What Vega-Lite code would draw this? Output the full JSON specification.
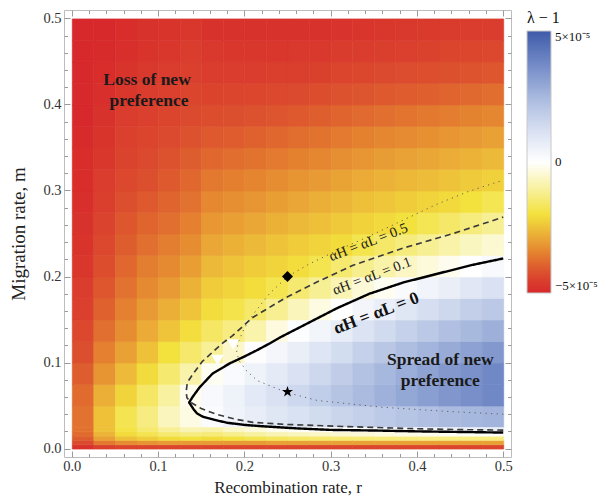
{
"$schema":"https://vega.github.io/schema/vega-lite/v6.json",
"width":447,"height":447,
"autosize":{"type":"none"},
"padding":{"left":64,"top":10,"right":100,"bottom":47},
"background":"white",
"config":{"font":"Liberation Serif","view":{"stroke":"#bdbdbd","strokeWidth":1}},
"datasets":{
"g":[
{"r":0,"m":0.025,"v":-3.7},{"r":0,"m":0.05,"v":-3.8},{"r":0,"m":0.075,"v":-4.0},{"r":0,"m":0.1,"v":-4.2},{"r":0,"m":0.125,"v":-4.35},{"r":0,"m":0.15,"v":-4.5},{"r":0,"m":0.175,"v":-4.6},{"r":0,"m":0.2,"v":-4.7},{"r":0,"m":0.225,"v":-4.75},{"r":0,"m":0.25,"v":-4.8},{"r":0,"m":0.275,"v":-4.85},{"r":0,"m":0.3,"v":-4.9},{"r":0,"m":0.325,"v":-4.9},{"r":0,"m":0.35,"v":-4.95},{"r":0,"m":0.375,"v":-5},{"r":0,"m":0.4,"v":-5},{"r":0,"m":0.425,"v":-5},{"r":0,"m":0.45,"v":-5},{"r":0,"m":0.475,"v":-5},
{"r":0.025,"m":0.025,"v":-2.5},{"r":0.025,"m":0.05,"v":-2.8},{"r":0.025,"m":0.075,"v":-3.2},{"r":0.025,"m":0.1,"v":-3.5},{"r":0.025,"m":0.125,"v":-3.75},{"r":0.025,"m":0.15,"v":-3.95},{"r":0.025,"m":0.175,"v":-4.1},{"r":0.025,"m":0.2,"v":-4.25},{"r":0.025,"m":0.225,"v":-4.35},{"r":0.025,"m":0.25,"v":-4.45},{"r":0.025,"m":0.275,"v":-4.55},{"r":0.025,"m":0.3,"v":-4.6},{"r":0.025,"m":0.325,"v":-4.7},{"r":0.025,"m":0.35,"v":-4.75},{"r":0.025,"m":0.375,"v":-4.8},{"r":0.025,"m":0.4,"v":-4.85},{"r":0.025,"m":0.425,"v":-4.9},{"r":0.025,"m":0.45,"v":-4.95},{"r":0.025,"m":0.475,"v":-5},
{"r":0.05,"m":0.025,"v":-1.8},{"r":0.05,"m":0.05,"v":-2.2},{"r":0.05,"m":0.075,"v":-2.6},{"r":0.05,"m":0.1,"v":-3.0},{"r":0.05,"m":0.125,"v":-3.3},{"r":0.05,"m":0.15,"v":-3.5},{"r":0.05,"m":0.175,"v":-3.7},{"r":0.05,"m":0.2,"v":-3.85},{"r":0.05,"m":0.225,"v":-4.0},{"r":0.05,"m":0.25,"v":-4.1},{"r":0.05,"m":0.275,"v":-4.2},{"r":0.05,"m":0.3,"v":-4.35},{"r":0.05,"m":0.325,"v":-4.45},{"r":0.05,"m":0.35,"v":-4.5},{"r":0.05,"m":0.375,"v":-4.6},{"r":0.05,"m":0.4,"v":-4.7},{"r":0.05,"m":0.425,"v":-4.75},{"r":0.05,"m":0.45,"v":-4.85},{"r":0.05,"m":0.475,"v":-4.9},
{"r":0.075,"m":0.025,"v":-1.3},{"r":0.075,"m":0.05,"v":-1.6},{"r":0.075,"m":0.075,"v":-2.1},{"r":0.075,"m":0.1,"v":-2.5},{"r":0.075,"m":0.125,"v":-2.85},{"r":0.075,"m":0.15,"v":-3.1},{"r":0.075,"m":0.175,"v":-3.35},{"r":0.075,"m":0.2,"v":-3.55},{"r":0.075,"m":0.225,"v":-3.75},{"r":0.075,"m":0.25,"v":-3.9},{"r":0.075,"m":0.275,"v":-4.05},{"r":0.075,"m":0.3,"v":-4.2},{"r":0.075,"m":0.325,"v":-4.3},{"r":0.075,"m":0.35,"v":-4.4},{"r":0.075,"m":0.375,"v":-4.5},{"r":0.075,"m":0.4,"v":-4.6},{"r":0.075,"m":0.425,"v":-4.65},{"r":0.075,"m":0.45,"v":-4.75},{"r":0.075,"m":0.475,"v":-4.8},
{"r":0.1,"m":0.025,"v":-0.7},{"r":0.1,"m":0.05,"v":-1.0},{"r":0.1,"m":0.075,"v":-1.5},{"r":0.1,"m":0.1,"v":-2.0},{"r":0.1,"m":0.125,"v":-2.45},{"r":0.1,"m":0.15,"v":-2.8},{"r":0.1,"m":0.175,"v":-3.1},{"r":0.1,"m":0.2,"v":-3.35},{"r":0.1,"m":0.225,"v":-3.55},{"r":0.1,"m":0.25,"v":-3.75},{"r":0.1,"m":0.275,"v":-3.9},{"r":0.1,"m":0.3,"v":-4.05},{"r":0.1,"m":0.325,"v":-4.15},{"r":0.1,"m":0.35,"v":-4.3},{"r":0.1,"m":0.375,"v":-4.4},{"r":0.1,"m":0.4,"v":-4.5},{"r":0.1,"m":0.425,"v":-4.6},{"r":0.1,"m":0.45,"v":-4.7},{"r":0.1,"m":0.475,"v":-4.75},
{"r":0.125,"m":0.025,"v":-0.3},{"r":0.125,"m":0.05,"v":-0.2},{"r":0.125,"m":0.075,"v":-0.9},{"r":0.125,"m":0.1,"v":-1.55},{"r":0.125,"m":0.125,"v":-2.05},{"r":0.125,"m":0.15,"v":-2.45},{"r":0.125,"m":0.175,"v":-2.75},{"r":0.125,"m":0.2,"v":-3.05},{"r":0.125,"m":0.225,"v":-3.3},{"r":0.125,"m":0.25,"v":-3.5},{"r":0.125,"m":0.275,"v":-3.7},{"r":0.125,"m":0.3,"v":-3.85},{"r":0.125,"m":0.325,"v":-4.0},{"r":0.125,"m":0.35,"v":-4.15},{"r":0.125,"m":0.375,"v":-4.3},{"r":0.125,"m":0.4,"v":-4.4},{"r":0.125,"m":0.425,"v":-4.5},{"r":0.125,"m":0.45,"v":-4.6},{"r":0.125,"m":0.475,"v":-4.7},
{"r":0.15,"m":0.025,"v":0.16},{"r":0.15,"m":0.05,"v":0.22},{"r":0.15,"m":0.075,"v":-0.15},{"r":0.15,"m":0.1,"v":-1.09},{"r":0.15,"m":0.125,"v":-1.61},{"r":0.15,"m":0.15,"v":-2.07},{"r":0.15,"m":0.175,"v":-2.35},{"r":0.15,"m":0.2,"v":-2.63},{"r":0.15,"m":0.225,"v":-2.9},{"r":0.15,"m":0.25,"v":-3.15},{"r":0.15,"m":0.275,"v":-3.38},{"r":0.15,"m":0.3,"v":-3.62},{"r":0.15,"m":0.325,"v":-3.85},{"r":0.15,"m":0.35,"v":-4.06},{"r":0.15,"m":0.375,"v":-4.25},{"r":0.15,"m":0.4,"v":-4.44},{"r":0.15,"m":0.425,"v":-4.57},{"r":0.15,"m":0.45,"v":-4.68},{"r":0.15,"m":0.475,"v":-4.8},
{"r":0.175,"m":0.025,"v":0.45},{"r":0.175,"m":0.05,"v":0.51},{"r":0.175,"m":0.075,"v":0.18},{"r":0.175,"m":0.1,"v":-0.56},{"r":0.175,"m":0.125,"v":-1.3},{"r":0.175,"m":0.15,"v":-1.86},{"r":0.175,"m":0.175,"v":-2.21},{"r":0.175,"m":0.2,"v":-2.48},{"r":0.175,"m":0.225,"v":-2.76},{"r":0.175,"m":0.25,"v":-3.03},{"r":0.175,"m":0.275,"v":-3.28},{"r":0.175,"m":0.3,"v":-3.52},{"r":0.175,"m":0.325,"v":-3.77},{"r":0.175,"m":0.35,"v":-4.01},{"r":0.175,"m":0.375,"v":-4.21},{"r":0.175,"m":0.4,"v":-4.41},{"r":0.175,"m":0.425,"v":-4.57},{"r":0.175,"m":0.45,"v":-4.69},{"r":0.175,"m":0.475,"v":-4.8},
{"r":0.2,"m":0.025,"v":0.7},{"r":0.2,"m":0.05,"v":0.84},{"r":0.2,"m":0.075,"v":0.52},{"r":0.2,"m":0.1,"v":0.07},{"r":0.2,"m":0.125,"v":-0.87},{"r":0.2,"m":0.15,"v":-1.54},{"r":0.2,"m":0.175,"v":-2.07},{"r":0.2,"m":0.2,"v":-2.35},{"r":0.2,"m":0.225,"v":-2.63},{"r":0.2,"m":0.25,"v":-2.91},{"r":0.2,"m":0.275,"v":-3.17},{"r":0.2,"m":0.3,"v":-3.42},{"r":0.2,"m":0.325,"v":-3.68},{"r":0.2,"m":0.35,"v":-3.93},{"r":0.2,"m":0.375,"v":-4.16},{"r":0.2,"m":0.4,"v":-4.38},{"r":0.2,"m":0.425,"v":-4.56},{"r":0.2,"m":0.45,"v":-4.69},{"r":0.2,"m":0.475,"v":-4.8},
{"r":0.225,"m":0.025,"v":0.95},{"r":0.225,"m":0.05,"v":1.16},{"r":0.225,"m":0.075,"v":0.82},{"r":0.225,"m":0.1,"v":0.34},{"r":0.225,"m":0.125,"v":-0.33},{"r":0.225,"m":0.15,"v":-1.15},{"r":0.225,"m":0.175,"v":-1.82},{"r":0.225,"m":0.2,"v":-2.21},{"r":0.225,"m":0.225,"v":-2.48},{"r":0.225,"m":0.25,"v":-2.76},{"r":0.225,"m":0.275,"v":-3.04},{"r":0.225,"m":0.3,"v":-3.31},{"r":0.225,"m":0.325,"v":-3.58},{"r":0.225,"m":0.35,"v":-3.85},{"r":0.225,"m":0.375,"v":-4.11},{"r":0.225,"m":0.4,"v":-4.34},{"r":0.225,"m":0.425,"v":-4.55},{"r":0.225,"m":0.45,"v":-4.69},{"r":0.225,"m":0.475,"v":-4.8},
{"r":0.25,"m":0.025,"v":1.15},{"r":0.25,"m":0.05,"v":1.48},{"r":0.25,"m":0.075,"v":1.16},{"r":0.25,"m":0.1,"v":0.68},{"r":0.25,"m":0.125,"v":0.09},{"r":0.25,"m":0.15,"v":-0.72},{"r":0.25,"m":0.175,"v":-1.47},{"r":0.25,"m":0.2,"v":-2.07},{"r":0.25,"m":0.225,"v":-2.35},{"r":0.25,"m":0.25,"v":-2.63},{"r":0.25,"m":0.275,"v":-2.92},{"r":0.25,"m":0.3,"v":-3.2},{"r":0.25,"m":0.325,"v":-3.48},{"r":0.25,"m":0.35,"v":-3.77},{"r":0.25,"m":0.375,"v":-4.05},{"r":0.25,"m":0.4,"v":-4.3},{"r":0.25,"m":0.425,"v":-4.53},{"r":0.25,"m":0.45,"v":-4.68},{"r":0.25,"m":0.475,"v":-4.8},
{"r":0.275,"m":0.025,"v":1.35},{"r":0.275,"m":0.05,"v":1.8},{"r":0.275,"m":0.075,"v":1.5},{"r":0.275,"m":0.1,"v":1.01},{"r":0.275,"m":0.125,"v":0.41},{"r":0.275,"m":0.15,"v":-0.32},{"r":0.275,"m":0.175,"v":-1.13},{"r":0.275,"m":0.2,"v":-1.82},{"r":0.275,"m":0.225,"v":-2.22},{"r":0.275,"m":0.25,"v":-2.51},{"r":0.275,"m":0.275,"v":-2.8},{"r":0.275,"m":0.3,"v":-3.09},{"r":0.275,"m":0.325,"v":-3.39},{"r":0.275,"m":0.35,"v":-3.68},{"r":0.275,"m":0.375,"v":-3.98},{"r":0.275,"m":0.4,"v":-4.24},{"r":0.275,"m":0.425,"v":-4.49},{"r":0.275,"m":0.45,"v":-4.65},{"r":0.275,"m":0.475,"v":-4.8},
{"r":0.3,"m":0.025,"v":1.56},{"r":0.3,"m":0.05,"v":2.1},{"r":0.3,"m":0.075,"v":1.82},{"r":0.3,"m":0.1,"v":1.33},{"r":0.3,"m":0.125,"v":0.72},{"r":0.3,"m":0.15,"v":0.01},{"r":0.3,"m":0.175,"v":-0.79},{"r":0.3,"m":0.2,"v":-1.5},{"r":0.3,"m":0.225,"v":-2.08},{"r":0.3,"m":0.25,"v":-2.38},{"r":0.3,"m":0.275,"v":-2.67},{"r":0.3,"m":0.3,"v":-2.97},{"r":0.3,"m":0.325,"v":-3.28},{"r":0.3,"m":0.35,"v":-3.59},{"r":0.3,"m":0.375,"v":-3.9},{"r":0.3,"m":0.4,"v":-4.17},{"r":0.3,"m":0.425,"v":-4.42},{"r":0.3,"m":0.45,"v":-4.61},{"r":0.3,"m":0.475,"v":-4.77},
{"r":0.325,"m":0.025,"v":1.73},{"r":0.325,"m":0.05,"v":2.4},{"r":0.325,"m":0.075,"v":2.17},{"r":0.325,"m":0.1,"v":1.69},{"r":0.325,"m":0.125,"v":1.08},{"r":0.325,"m":0.15,"v":0.38},{"r":0.325,"m":0.175,"v":-0.4},{"r":0.325,"m":0.2,"v":-1.17},{"r":0.325,"m":0.225,"v":-1.83},{"r":0.325,"m":0.25,"v":-2.23},{"r":0.325,"m":0.275,"v":-2.54},{"r":0.325,"m":0.3,"v":-2.85},{"r":0.325,"m":0.325,"v":-3.16},{"r":0.325,"m":0.35,"v":-3.49},{"r":0.325,"m":0.375,"v":-3.81},{"r":0.325,"m":0.4,"v":-4.11},{"r":0.325,"m":0.425,"v":-4.36},{"r":0.325,"m":0.45,"v":-4.57},{"r":0.325,"m":0.475,"v":-4.73},
{"r":0.35,"m":0.025,"v":1.92},{"r":0.35,"m":0.05,"v":2.69},{"r":0.35,"m":0.075,"v":2.5},{"r":0.35,"m":0.1,"v":2.01},{"r":0.35,"m":0.125,"v":1.38},{"r":0.35,"m":0.15,"v":0.66},{"r":0.35,"m":0.175,"v":-0.14},{"r":0.35,"m":0.2,"v":-0.89},{"r":0.35,"m":0.225,"v":-1.57},{"r":0.35,"m":0.25,"v":-2.11},{"r":0.35,"m":0.275,"v":-2.42},{"r":0.35,"m":0.3,"v":-2.74},{"r":0.35,"m":0.325,"v":-3.06},{"r":0.35,"m":0.35,"v":-3.4},{"r":0.35,"m":0.375,"v":-3.74},{"r":0.35,"m":0.4,"v":-4.06},{"r":0.35,"m":0.425,"v":-4.31},{"r":0.35,"m":0.45,"v":-4.54},{"r":0.35,"m":0.475,"v":-4.7},
{"r":0.375,"m":0.025,"v":2.09},{"r":0.375,"m":0.05,"v":2.93},{"r":0.375,"m":0.075,"v":2.78},{"r":0.375,"m":0.1,"v":2.31},{"r":0.375,"m":0.125,"v":1.7},{"r":0.375,"m":0.15,"v":0.99},{"r":0.375,"m":0.175,"v":0.18},{"r":0.375,"m":0.2,"v":-0.62},{"r":0.375,"m":0.225,"v":-1.34},{"r":0.375,"m":0.25,"v":-2.0},{"r":0.375,"m":0.275,"v":-2.33},{"r":0.375,"m":0.3,"v":-2.65},{"r":0.375,"m":0.325,"v":-2.98},{"r":0.375,"m":0.35,"v":-3.33},{"r":0.375,"m":0.375,"v":-3.67},{"r":0.375,"m":0.4,"v":-4.02},{"r":0.375,"m":0.425,"v":-4.27},{"r":0.375,"m":0.45,"v":-4.51},{"r":0.375,"m":0.475,"v":-4.67},
{"r":0.4,"m":0.025,"v":2.23},{"r":0.4,"m":0.05,"v":3.17},{"r":0.4,"m":0.075,"v":3.06},{"r":0.4,"m":0.1,"v":2.59},{"r":0.4,"m":0.125,"v":1.97},{"r":0.4,"m":0.15,"v":1.24},{"r":0.4,"m":0.175,"v":0.43},{"r":0.4,"m":0.2,"v":-0.38},{"r":0.4,"m":0.225,"v":-1.12},{"r":0.4,"m":0.25,"v":-1.78},{"r":0.4,"m":0.275,"v":-2.22},{"r":0.4,"m":0.3,"v":-2.56},{"r":0.4,"m":0.325,"v":-2.9},{"r":0.4,"m":0.35,"v":-3.25},{"r":0.4,"m":0.375,"v":-3.61},{"r":0.4,"m":0.4,"v":-3.96},{"r":0.4,"m":0.425,"v":-4.22},{"r":0.4,"m":0.45,"v":-4.47},{"r":0.4,"m":0.475,"v":-4.64},
{"r":0.425,"m":0.025,"v":2.39},{"r":0.425,"m":0.05,"v":3.41},{"r":0.425,"m":0.075,"v":3.33},{"r":0.425,"m":0.1,"v":2.85},{"r":0.425,"m":0.125,"v":2.23},{"r":0.425,"m":0.15,"v":1.49},{"r":0.425,"m":0.175,"v":0.67},{"r":0.425,"m":0.2,"v":-0.18},{"r":0.425,"m":0.225,"v":-0.89},{"r":0.425,"m":0.25,"v":-1.56},{"r":0.425,"m":0.275,"v":-2.12},{"r":0.425,"m":0.3,"v":-2.47},{"r":0.425,"m":0.325,"v":-2.82},{"r":0.425,"m":0.35,"v":-3.17},{"r":0.425,"m":0.375,"v":-3.54},{"r":0.425,"m":0.4,"v":-3.9},{"r":0.425,"m":0.425,"v":-4.18},{"r":0.425,"m":0.45,"v":-4.43},{"r":0.425,"m":0.475,"v":-4.61},
{"r":0.45,"m":0.025,"v":2.49},{"r":0.45,"m":0.05,"v":3.59},{"r":0.45,"m":0.075,"v":3.55},{"r":0.45,"m":0.1,"v":3.1},{"r":0.45,"m":0.125,"v":2.48},{"r":0.45,"m":0.15,"v":1.75},{"r":0.45,"m":0.175,"v":0.92},{"r":0.45,"m":0.2,"v":0.01},{"r":0.45,"m":0.225,"v":-0.67},{"r":0.45,"m":0.25,"v":-1.34},{"r":0.45,"m":0.275,"v":-2.0},{"r":0.45,"m":0.3,"v":-2.36},{"r":0.45,"m":0.325,"v":-2.73},{"r":0.45,"m":0.35,"v":-3.1},{"r":0.45,"m":0.375,"v":-3.46},{"r":0.45,"m":0.4,"v":-3.83},{"r":0.45,"m":0.425,"v":-4.14},{"r":0.45,"m":0.45,"v":-4.39},{"r":0.45,"m":0.475,"v":-4.58},
{"r":0.475,"m":0.025,"v":2.6},{"r":0.475,"m":0.05,"v":3.77},{"r":0.475,"m":0.075,"v":3.77},{"r":0.475,"m":0.1,"v":3.33},{"r":0.475,"m":0.125,"v":2.71},{"r":0.475,"m":0.15,"v":1.98},{"r":0.475,"m":0.175,"v":1.16},{"r":0.475,"m":0.2,"v":0.25},{"r":0.475,"m":0.225,"v":-0.48},{"r":0.475,"m":0.25,"v":-1.12},{"r":0.475,"m":0.275,"v":-1.78},{"r":0.475,"m":0.3,"v":-2.25},{"r":0.475,"m":0.325,"v":-2.63},{"r":0.475,"m":0.35,"v":-3.01},{"r":0.475,"m":0.375,"v":-3.39},{"r":0.475,"m":0.4,"v":-3.77},{"r":0.475,"m":0.425,"v":-4.1},{"r":0.475,"m":0.45,"v":-4.35},{"r":0.475,"m":0.475,"v":-4.56}
],
"b":[
{"r":0,"m":0,"v":-4.8},{"r":0,"m":0.005,"v":-4.3},{"r":0,"m":0.01,"v":-4.0},{"r":0,"m":0.015,"v":-3.8},{"r":0,"m":0.02,"v":-3.7},
{"r":0.025,"m":0,"v":-4.5},{"r":0.025,"m":0.005,"v":-3.6},{"r":0.025,"m":0.01,"v":-3.0},{"r":0.025,"m":0.015,"v":-2.7},{"r":0.025,"m":0.02,"v":-2.5},
{"r":0.05,"m":0,"v":-4.4},{"r":0.05,"m":0.005,"v":-3.3},{"r":0.05,"m":0.01,"v":-2.5},{"r":0.05,"m":0.015,"v":-2.1},{"r":0.05,"m":0.02,"v":-1.9},
{"r":0.075,"m":0,"v":-4.4},{"r":0.075,"m":0.005,"v":-3.2},{"r":0.075,"m":0.01,"v":-2.3},{"r":0.075,"m":0.015,"v":-1.8},{"r":0.075,"m":0.02,"v":-1.5},
{"r":0.1,"m":0,"v":-4.4},{"r":0.1,"m":0.005,"v":-3.1},{"r":0.1,"m":0.01,"v":-2.1},{"r":0.1,"m":0.015,"v":-1.5},{"r":0.1,"m":0.02,"v":-1.1},
{"r":0.125,"m":0,"v":-4.4},{"r":0.125,"m":0.005,"v":-3.1},{"r":0.125,"m":0.01,"v":-2.0},{"r":0.125,"m":0.015,"v":-1.3},{"r":0.125,"m":0.02,"v":-0.8},
{"r":0.15,"m":0,"v":-4.4},{"r":0.15,"m":0.005,"v":-3.1},{"r":0.15,"m":0.01,"v":-2.1},{"r":0.15,"m":0.015,"v":-1.4},{"r":0.15,"m":0.02,"v":-0.9},
{"r":0.175,"m":0,"v":-4.4},{"r":0.175,"m":0.005,"v":-3.1},{"r":0.175,"m":0.01,"v":-1.95},{"r":0.175,"m":0.015,"v":-1.2},{"r":0.175,"m":0.02,"v":-0.6},
{"r":0.2,"m":0,"v":-4.4},{"r":0.2,"m":0.005,"v":-3.1},{"r":0.2,"m":0.01,"v":-1.8},{"r":0.2,"m":0.015,"v":-1.0},{"r":0.2,"m":0.02,"v":-0.4},
{"r":0.225,"m":0,"v":-4.4},{"r":0.225,"m":0.005,"v":-3.0},{"r":0.225,"m":0.01,"v":-1.7},{"r":0.225,"m":0.015,"v":-0.8},{"r":0.225,"m":0.02,"v":-0.2},
{"r":0.25,"m":0,"v":-4.4},{"r":0.25,"m":0.005,"v":-3.0},{"r":0.25,"m":0.01,"v":-1.6},{"r":0.25,"m":0.015,"v":-0.7},{"r":0.25,"m":0.02,"v":-0.1},
{"r":0.275,"m":0,"v":-4.4},{"r":0.275,"m":0.005,"v":-3.0},{"r":0.275,"m":0.01,"v":-1.55},{"r":0.275,"m":0.015,"v":-0.6},{"r":0.275,"m":0.02,"v":-0.05},
{"r":0.3,"m":0,"v":-4.4},{"r":0.3,"m":0.005,"v":-3.0},{"r":0.3,"m":0.01,"v":-1.5},{"r":0.3,"m":0.015,"v":-0.5},{"r":0.3,"m":0.02,"v":0.07},
{"r":0.325,"m":0,"v":-4.4},{"r":0.325,"m":0.005,"v":-3.0},{"r":0.325,"m":0.01,"v":-1.45},{"r":0.325,"m":0.015,"v":-0.4},{"r":0.325,"m":0.02,"v":0.15},
{"r":0.35,"m":0,"v":-4.4},{"r":0.35,"m":0.005,"v":-3.0},{"r":0.35,"m":0.01,"v":-1.4},{"r":0.35,"m":0.015,"v":-0.35},{"r":0.35,"m":0.02,"v":0.24},
{"r":0.375,"m":0,"v":-4.4},{"r":0.375,"m":0.005,"v":-3.0},{"r":0.375,"m":0.01,"v":-1.35},{"r":0.375,"m":0.015,"v":-0.25},{"r":0.375,"m":0.02,"v":0.41},
{"r":0.4,"m":0,"v":-4.4},{"r":0.4,"m":0.005,"v":-3.0},{"r":0.4,"m":0.01,"v":-1.3},{"r":0.4,"m":0.015,"v":-0.2},{"r":0.4,"m":0.02,"v":0.47},
{"r":0.425,"m":0,"v":-4.4},{"r":0.425,"m":0.005,"v":-3.0},{"r":0.425,"m":0.01,"v":-1.3},{"r":0.425,"m":0.015,"v":-0.15},{"r":0.425,"m":0.02,"v":0.56},
{"r":0.45,"m":0,"v":-4.4},{"r":0.45,"m":0.005,"v":-3.0},{"r":0.45,"m":0.01,"v":-1.3},{"r":0.45,"m":0.015,"v":-0.1},{"r":0.45,"m":0.02,"v":0.62},
{"r":0.475,"m":0,"v":-4.4},{"r":0.475,"m":0.005,"v":-3.0},{"r":0.475,"m":0.01,"v":-1.3},{"r":0.475,"m":0.015,"v":-0.05},{"r":0.475,"m":0.02,"v":0.68}
],
"cont":[
{"c":"0","i":0,"r":0.5,"m":0.0186},{"c":"0","i":1,"r":0.45,"m":0.0193},{"c":"0","i":2,"r":0.4,"m":0.02},{"c":"0","i":3,"r":0.35,"m":0.021},{"c":"0","i":4,"r":0.3,"m":0.0217},{"c":"0","i":5,"r":0.26,"m":0.0235},{"c":"0","i":6,"r":0.22,"m":0.026},{"c":"0","i":7,"r":0.2,"m":0.0275},{"c":"0","i":8,"r":0.18,"m":0.03},{"c":"0","i":9,"r":0.165,"m":0.0335},{"c":"0","i":10,"r":0.152,"m":0.037},{"c":"0","i":11,"r":0.145,"m":0.041},{"c":"0","i":12,"r":0.141,"m":0.046},{"c":"0","i":13,"r":0.136,"m":0.0535},{"c":"0","i":14,"r":0.14,"m":0.06},{"c":"0","i":15,"r":0.148,"m":0.071},{"c":"0","i":16,"r":0.163,"m":0.087},{"c":"0","i":17,"r":0.183,"m":0.099},{"c":"0","i":18,"r":0.198,"m":0.106},{"c":"0","i":19,"r":0.214,"m":0.114},{"c":"0","i":20,"r":0.229,"m":0.122},{"c":"0","i":21,"r":0.241,"m":0.129},{"c":"0","i":22,"r":0.276,"m":0.147},{"c":"0","i":23,"r":0.307,"m":0.163},{"c":"0","i":24,"r":0.345,"m":0.18},{"c":"0","i":25,"r":0.384,"m":0.193},{"c":"0","i":26,"r":0.423,"m":0.203},{"c":"0","i":27,"r":0.462,"m":0.213},{"c":"0","i":28,"r":0.5,"m":0.221},
{"c":"0.1","i":0,"r":0.5,"m":0.0215},{"c":"0.1","i":1,"r":0.45,"m":0.022},{"c":"0.1","i":2,"r":0.4,"m":0.023},{"c":"0.1","i":3,"r":0.32,"m":0.0255},{"c":"0.1","i":4,"r":0.25,"m":0.028},{"c":"0.1","i":5,"r":0.21,"m":0.0305},{"c":"0.1","i":6,"r":0.19,"m":0.034},{"c":"0.1","i":7,"r":0.167,"m":0.04},{"c":"0.1","i":8,"r":0.15,"m":0.0465},{"c":"0.1","i":9,"r":0.139,"m":0.053},{"c":"0.1","i":10,"r":0.1335,"m":0.059},{"c":"0.1","i":11,"r":0.1325,"m":0.066},{"c":"0.1","i":12,"r":0.134,"m":0.077},{"c":"0.1","i":13,"r":0.14,"m":0.086},{"c":"0.1","i":14,"r":0.151,"m":0.101},{"c":"0.1","i":15,"r":0.163,"m":0.112},{"c":"0.1","i":16,"r":0.174,"m":0.122},{"c":"0.1","i":17,"r":0.186,"m":0.131},{"c":"0.1","i":18,"r":0.197,"m":0.141},{"c":"0.1","i":19,"r":0.209,"m":0.152},{"c":"0.1","i":20,"r":0.249,"m":0.176},{"c":"0.1","i":21,"r":0.287,"m":0.195},{"c":"0.1","i":22,"r":0.326,"m":0.213},{"c":"0.1","i":23,"r":0.384,"m":0.233},{"c":"0.1","i":24,"r":0.442,"m":0.25},{"c":"0.1","i":25,"r":0.5,"m":0.269},
{"c":"0.5","i":0,"r":0.5,"m":0.04},{"c":"0.5","i":1,"r":0.438,"m":0.043},{"c":"0.5","i":2,"r":0.36,"m":0.048},{"c":"0.5","i":3,"r":0.284,"m":0.056},{"c":"0.5","i":4,"r":0.25,"m":0.065},{"c":"0.5","i":5,"r":0.237,"m":0.07},{"c":"0.5","i":6,"r":0.215,"m":0.079},{"c":"0.5","i":7,"r":0.202,"m":0.091},{"c":"0.5","i":8,"r":0.194,"m":0.102},{"c":"0.5","i":9,"r":0.191,"m":0.112},{"c":"0.5","i":10,"r":0.193,"m":0.124},{"c":"0.5","i":11,"r":0.2,"m":0.14},{"c":"0.5","i":12,"r":0.211,"m":0.157},{"c":"0.5","i":13,"r":0.229,"m":0.18},{"c":"0.5","i":14,"r":0.25,"m":0.2},{"c":"0.5","i":15,"r":0.276,"m":0.215},{"c":"0.5","i":16,"r":0.307,"m":0.23},{"c":"0.5","i":17,"r":0.345,"m":0.247},{"c":"0.5","i":18,"r":0.385,"m":0.266},{"c":"0.5","i":19,"r":0.423,"m":0.284},{"c":"0.5","i":20,"r":0.46,"m":0.299},{"c":"0.5","i":21,"r":0.5,"m":0.312}
],
"pts":[
{"k":"d","r":0.25,"m":0.2},{"k":"s","r":0.25,"m":0.066},{"k":"t","r":0.169,"m":0.103},{"k":"t","r":0.187,"m":0.121}
],
"lab":[
{"t":"Loss of new","r":0.0872,"m":0.429},{"t":"preference","r":0.0895,"m":0.4035},{"t":"Spread of new","r":0.427,"m":0.1035},{"t":"preference","r":0.427,"m":0.079}
],
"clab":[
{"t":"αH = αL = 0.5","c":"0.5","r":0.344,"m":0.2395},{"t":"αH = αL = 0.1","c":"0.1","r":0.348,"m":0.2},{"t":"αH = αL = 0","c":"0","r":0.353,"m":0.157}
]
},
"resolve":{"axis":{"x":"independent","y":"independent"},"scale":{"stroke":"independent"}},
"layer":[
{"data":{"name":"g"},"mark":{"type":"rect","strokeWidth":0.6},
"encoding":{
"x":{"field":"r","type":"quantitative","bin":{"binned":true,"step":0.025},"scale":{"domain":[-0.009,0.509],"nice":false,"zero":false},"axis":null},
"y":{"field":"m","type":"quantitative","bin":{"binned":true,"step":0.025},"scale":{"domain":[-0.0098,0.5098],"nice":false,"zero":false},"axis":null},
"color":{"field":"v","type":"quantitative","scale":{"domain":[-5,-4.2,-3.5,-2.8,-2,-1,0,1.25,2.5,3.75,5],"range":["#d7282b","#dc4f2e","#e4802f","#ebae37","#f3e13d","#f8f1a0","#ffffff","#d6dff1","#a7b8de","#7189c6","#3f5caa"],"interpolate":"rgb","clamp":true},
"legend":{"orient":"none","legendX":463,"legendY":0,"title":"λ − 1","titleFont":"Liberation Serif","titleFontSize":16,"titleFontWeight":"normal","titleColor":"#111","titlePadding":5,"direction":"vertical","gradientLength":262,"gradientThickness":24,"gradientStrokeColor":"#c8c8c8","gradientStrokeWidth":1,"values":[-5,0,5],"labelExpr":"datum.value > 0 ? '5×10⁻⁵' : (datum.value < 0 ? '−5×10⁻⁵' : '0')","labelFont":"Liberation Serif","labelFontSize":13,"labelColor":"#111","labelOffset":4,"labelOverlap":false}},
"stroke":{"field":"v","type":"quantitative","scale":{"domain":[-5,-4.2,-3.5,-2.8,-2,-1,0,1.25,2.5,3.75,5],"range":["#d7282b","#dc4f2e","#e4802f","#ebae37","#f3e13d","#f8f1a0","#ffffff","#d6dff1","#a7b8de","#7189c6","#3f5caa"],"interpolate":"rgb","clamp":true},"legend":null}
}},
{"data":{"name":"b"},"mark":{"type":"rect","strokeWidth":0.6},
"encoding":{
"x":{"field":"r","type":"quantitative","bin":{"binned":true,"step":0.025},"axis":null},
"y":{"field":"m","type":"quantitative","bin":{"binned":true,"step":0.005},"axis":null},
"color":{"field":"v","type":"quantitative"},
"stroke":{"field":"v","type":"quantitative","scale":{"domain":[-5,-4.2,-3.5,-2.8,-2,-1,0,1.25,2.5,3.75,5],"range":["#d7282b","#dc4f2e","#e4802f","#ebae37","#f3e13d","#f8f1a0","#ffffff","#d6dff1","#a7b8de","#7189c6","#3f5caa"],"interpolate":"rgb","clamp":true},"legend":null}
}},
{"data":{"name":"cont"},"mark":{"type":"line","strokeCap":"butt","strokeJoin":"round"},
"encoding":{
"x":{"field":"r","type":"quantitative","scale":{"domain":[-0.009,0.509],"nice":false,"zero":false},
"axis":{"orient":"bottom","values":[0,0.02,0.04,0.06,0.08,0.1,0.12,0.14,0.16,0.18,0.2,0.22,0.24,0.26,0.28,0.3,0.32,0.34,0.36,0.38,0.4,0.42,0.44,0.46,0.48,0.5],"labelExpr":"abs(datum.value*10-round(datum.value*10))<0.001 ? format(datum.value,'.1f') : ''","tickSize":{"condition":{"test":"abs(datum.value*10-round(datum.value*10))<0.001","value":-6},"value":-3.5},"tickColor":"#9a9a9a","domain":false,"grid":false,"labelFont":"Liberation Serif","labelFontSize":14.5,"labelColor":"#333","labelPadding":8,"labelFlush":false,"labelOverlap":false,"title":"Recombination rate, r","titleFont":"Liberation Serif","titleFontSize":17,"titleFontWeight":"normal","titleColor":"#222","titlePadding":4}},
"y":{"field":"m","type":"quantitative","scale":{"domain":[-0.0098,0.5098],"nice":false,"zero":false},
"axis":{"orient":"left","values":[0,0.02,0.04,0.06,0.08,0.1,0.12,0.14,0.16,0.18,0.2,0.22,0.24,0.26,0.28,0.3,0.32,0.34,0.36,0.38,0.4,0.42,0.44,0.46,0.48,0.5],"labelExpr":"abs(datum.value*10-round(datum.value*10))<0.001 ? format(datum.value,'.1f') : ''","tickSize":{"condition":{"test":"abs(datum.value*10-round(datum.value*10))<0.001","value":-6},"value":-3.5},"tickColor":"#9a9a9a","domain":false,"grid":false,"labelFont":"Liberation Serif","labelFontSize":14.5,"labelColor":"#333","labelPadding":9,"labelFlush":false,"labelOverlap":false,"title":"Migration rate, m","titleFont":"Liberation Serif","titleFontSize":19,"titleFontWeight":"normal","titleColor":"#222","titlePadding":14}},
"order":{"field":"i","type":"quantitative"},
"stroke":{"field":"c","type":"nominal","scale":{"domain":["0","0.1","0.5"],"range":["#000000","#3a3a3a","#555555"]},"legend":null},
"strokeDash":{"field":"c","type":"nominal","scale":{"domain":["0","0.1","0.5"],"range":[[1,0],[6,4],[1.2,4.3]]},"legend":null},
"strokeWidth":{"field":"c","type":"ordinal","scale":{"domain":["0","0.1","0.5"],"range":[2.4,0.9,1.4]},"legend":null}
}},
{"data":{"name":"pts"},"mark":{"type":"point","filled":true,"opacity":1,"strokeWidth":0},
"encoding":{
"x":{"field":"r","type":"quantitative","axis":{"orient":"top","values":[0,0.02,0.04,0.06,0.08,0.1,0.12,0.14,0.16,0.18,0.2,0.22,0.24,0.26,0.28,0.3,0.32,0.34,0.36,0.38,0.4,0.42,0.44,0.46,0.48,0.5],"labels":false,"title":null,"tickSize":{"condition":{"test":"abs(datum.value*10-round(datum.value*10))<0.001","value":-6},"value":-3.5},"tickColor":"#9a9a9a","domain":false,"grid":false}},
"y":{"field":"m","type":"quantitative","axis":{"orient":"right","values":[0,0.02,0.04,0.06,0.08,0.1,0.12,0.14,0.16,0.18,0.2,0.22,0.24,0.26,0.28,0.3,0.32,0.34,0.36,0.38,0.4,0.42,0.44,0.46,0.48,0.5],"labels":false,"title":null,"tickSize":{"condition":{"test":"abs(datum.value*10-round(datum.value*10))<0.001","value":-6},"value":-3.5},"tickColor":"#9a9a9a","domain":false,"grid":false}},
"shape":{"field":"k","type":"nominal","scale":{"domain":["d","s","t"],"range":["diamond","M0,-1L0.235,-0.324L0.951,-0.309L0.38,0.124L0.588,0.809L0,0.4L-0.588,0.809L-0.38,0.124L-0.951,-0.309L-0.235,-0.324Z","triangle-down"]},"legend":null},
"fill":{"field":"k","type":"nominal","scale":{"domain":["d","s","t"],"range":["#000000","#000000","#ffffff"]},"legend":null},
"size":{"field":"k","type":"ordinal","scale":{"domain":["d","s","t"],"range":[120,150,45]},"legend":null}
}},
{"data":{"name":"lab"},"mark":{"type":"text","font":"Liberation Serif","fontSize":17.5,"fontWeight":"bold","color":"#1a1a1a"},
"encoding":{"x":{"field":"r","type":"quantitative","axis":null},"y":{"field":"m","type":"quantitative","axis":null},"text":{"field":"t"}}},
{"data":{"name":"clab"},"transform":[{"filter":"datum.c != '0'"}],"mark":{"type":"text","font":"Liberation Serif","fontSize":14.5,"angle":339,"color":"#1a1a1a"},
"encoding":{"x":{"field":"r","type":"quantitative","axis":null},"y":{"field":"m","type":"quantitative","axis":null},"text":{"field":"t"}}},
{"data":{"name":"clab"},"transform":[{"filter":"datum.c == '0'"}],"mark":{"type":"text","font":"Liberation Serif","fontSize":17.5,"fontWeight":"bold","angle":339,"color":"#111"},
"encoding":{"x":{"field":"r","type":"quantitative","axis":null},"y":{"field":"m","type":"quantitative","axis":null},"text":{"field":"t"}}}
]
}
